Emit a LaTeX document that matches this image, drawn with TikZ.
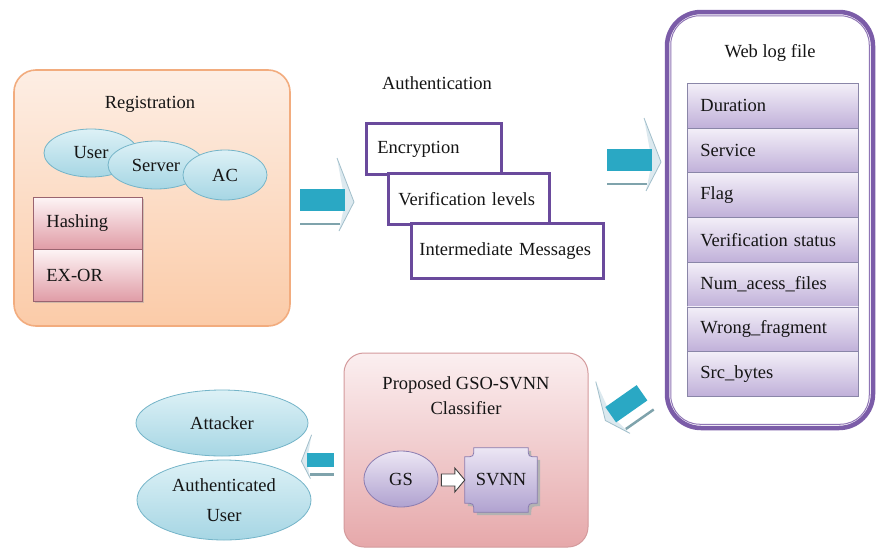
\documentclass[tikz,border=0pt]{standalone}
\usepackage{fontspec}
\setmainfont{Liberation Serif}
\usetikzlibrary{calc,shapes.geometric,shadows}
\definecolor{regtop}{HTML}{FDEEE4}
\definecolor{regbot}{HTML}{FBCBA8}
\definecolor{regedge}{HTML}{F2AC7E}
\definecolor{bluetop}{HTML}{DDF1F6}
\definecolor{bluebot}{HTML}{A6D6E4}
\definecolor{blueedge}{HTML}{74B4C8}
\definecolor{pinktop}{HTML}{FDF4F5}
\definecolor{pinkbot}{HTML}{E09CA6}
\definecolor{pinkedge}{HTML}{9A6470}
\definecolor{purp}{HTML}{6A4A9C}
\definecolor{webpurp}{HTML}{7B5CA8}
\definecolor{rowtop}{HTML}{F3EFF8}
\definecolor{rowbot}{HTML}{C0B0D9}
\definecolor{rowedge}{HTML}{8A86A8}
\definecolor{clstop}{HTML}{FBEFF0}
\definecolor{clsbot}{HTML}{E6A8AA}
\definecolor{clsedge}{HTML}{D49A9C}
\definecolor{gstop}{HTML}{ECE6F4}
\definecolor{gsbot}{HTML}{B0A2D0}
\definecolor{gsedge}{HTML}{8A7CB0}
\definecolor{arrcyan}{HTML}{2AA8C4}
\definecolor{arrlight}{HTML}{DCE9EF}
\definecolor{arredge}{HTML}{A2BFCB}
\definecolor{arrshadow}{HTML}{7FA3AC}
\definecolor{txt}{HTML}{151515}
\tikzset{
  every node/.style={font=\fontsize{18.5}{21}\selectfont, text=txt, inner sep=0pt},
  regbox/.style={rounded corners=22pt, top color=regtop, bottom color=regbot, draw=regedge, line width=1.6pt},
  blueell/.style={ellipse, top color=bluetop, bottom color=bluebot, draw=blueedge, line width=0.8pt},
  pinkbox/.style={rectangle, top color=pinktop, bottom color=pinkbot, draw=pinkedge, line width=0.8pt, minimum width=109pt, minimum height=52pt, text width=83pt, inner xsep=13pt, align=left, drop shadow={shadow xshift=1.5pt, shadow yshift=-1.5pt, fill=black!35}},
  purpbox/.style={rectangle, fill=white, draw=purp, line width=2.8pt, align=left, minimum height=51pt},
  rowbox/.style={rectangle, top color=rowtop, bottom color=rowbot, draw=rowedge, line width=0.8pt, minimum width=171pt, minimum height=44.7pt, text width=145pt, inner xsep=13pt, align=left},
  bigarr/.pic={
    \fill[arrlight] (14,-42) -- (31,2) -- (16,31) -- (22,2) -- cycle;
    \draw[arredge, line width=0.8pt] (14,-42) -- (31,2) -- (16,31);
    \fill[arrcyan] (-23,-11) rectangle (22,11);
    \draw[arrshadow, line width=2.5pt] (-23,24) -- (17,24);
  }
}
\begin{document}
\begin{tikzpicture}[x=1pt,y=-1pt]
\useasboundingbox (0,0) rectangle (878,549);
\fill[white] (0,0) rectangle (878,549);

% Registration block
\node[regbox, minimum width=276pt, minimum height=256pt] (reg) at (152,198) {};
\node (regt) at (150,104) {Registration};
\node[blueell, minimum width=94pt, minimum height=48pt] (user) at (91,153) {User};
\node[blueell, minimum width=96pt, minimum height=48pt] (server) at (156,165) {Server};
\node[blueell, minimum width=84pt, minimum height=50pt] (ac) at (225,175) {AC};
\node[pinkbox, anchor=north west] (hash) at (33,197) {Hashing};
\node[pinkbox, anchor=north west] (exor) at (33,249) {EX-OR};

% Authentication block
\node (autht) at (437,83) {Authentication};
\node[purpbox, anchor=north west, minimum width=135pt, text width=113pt, inner xsep=11pt] (enc) at (365,122) {Encryption};
\node[purpbox, anchor=north west, minimum width=161pt, text width=141pt, inner xsep=10pt] (ver) at (387,172) {Verification levels};
\node[purpbox, anchor=north west, minimum width=192pt, minimum height=55pt, text width=176pt, inner xsep=8pt] (inter) at (410,222) {Intermediate Messages};

% Web log file block
\node[rectangle, rounded corners=34pt, draw=webpurp, line width=4.5pt, fill=white, minimum width=206pt, minimum height=416pt] (web) at (770,220) {};
\draw[webpurp!85, line width=1pt, rounded corners=29pt] ($(web.north west)+(6,6)$) rectangle ($(web.south east)+(-6,-6)$);
\node (webt) at (770,53) {Web log file};
\foreach \t [count=\i] in {Duration, Service, Flag, Verification status, Num\_acess\_files, Wrong\_fragment, Src\_bytes}{
  \node[rowbox, anchor=north west] (r\i) at (687,{83+(\i-1)*44.7}) {\t};
}

% Classifier block
\node[rectangle, rounded corners=20pt, top color=clstop, bottom color=clsbot, draw=clsedge, line width=1pt, minimum width=244pt, minimum height=194pt] (cls) at (466,450) {};
\node[align=center, font=\fontsize{18.5}{25}\selectfont] (clst) at (466,396) {Proposed GSO-SVNN\\Classifier};
\node[ellipse, top color=gstop, bottom color=gsbot, draw=gsedge, line width=0.8pt, minimum width=74pt, minimum height=56pt] (gs) at (401,479) {GS};
\node[minimum width=72pt, minimum height=64pt] (svnn) at (501,480) {};
\fill[gray!60] ($(svnn.north west)+(3+9,3)$) -- ($(svnn.north east)+(3-9,3)$) .. controls ($(svnn.north east)+(3-9,3+9)$) .. ($(svnn.north east)+(3,3+9)$)
  -- ($(svnn.south east)+(3,3-9)$) .. controls ($(svnn.south east)+(3-9,3-9)$) .. ($(svnn.south east)+(3-9,3)$)
  -- ($(svnn.south west)+(3+9,3)$) .. controls ($(svnn.south west)+(3+9,3-9)$) .. ($(svnn.south west)+(3,3-9)$)
  -- ($(svnn.north west)+(3,3+9)$) .. controls ($(svnn.north west)+(3+9,3+9)$) .. cycle;
\shade[top color=gstop, bottom color=gsbot, draw=gsedge, line width=0.8pt] ($(svnn.north west)+(9,0)$) -- ($(svnn.north east)+(-9,0)$) .. controls ($(svnn.north east)+(-9,9)$) .. ($(svnn.north east)+(0,9)$)
  -- ($(svnn.south east)+(0,-9)$) .. controls ($(svnn.south east)+(-9,-9)$) .. ($(svnn.south east)+(-9,0)$)
  -- ($(svnn.south west)+(9,0)$) .. controls ($(svnn.south west)+(9,-9)$) .. ($(svnn.south west)+(0,-9)$)
  -- ($(svnn.north west)+(0,9)$) .. controls ($(svnn.north west)+(9,9)$) .. cycle;
\node (svnnt) at (svnn.center) {SVNN};
\coordinate (gsa) at ($(gs.east)+(3,1)$);
\draw[fill=white, draw=black!75, line width=0.9pt] ($(gsa)+(0,-6)$) -- ($(svnn.west)+(-10,-6)$) -- ($(svnn.west)+(-10,-12)$) -- (svnn.west) -- ($(svnn.west)+(-10,12)$) -- ($(svnn.west)+(-10,6)$) -- ($(gsa)+(0,6)$) -- cycle;

% Output ellipses
\node[blueell, minimum width=174pt, minimum height=80pt, align=center, font=\fontsize{18.5}{30}\selectfont] (auth) at (224,500) {Authenticated\\User};
\node[blueell, minimum width=172pt, minimum height=66pt] (att) at (222,423) {Attacker};

% Flow arrows
\pic at (323,200) {bigarr};
\pic at (630,160) {bigarr};
\pic[rotate=35, xscale=-1, scale=0.85] at (626,404) {bigarr};
\pic[xscale=-1, scale=0.6] at (320,460) {bigarr};
\end{tikzpicture}
\end{document}
